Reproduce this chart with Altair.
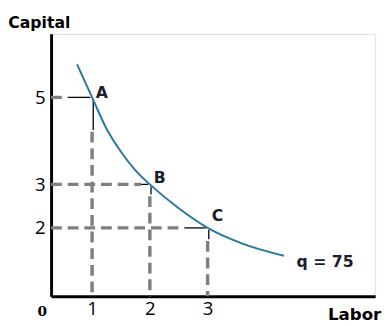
import altair as alt
import pandas as pd

# ---- data ----
curve_x = [0.74, 1.0, 1.25, 1.5, 1.75, 2.0, 2.5, 3.0, 3.6, 4.32]
curve_y = [5.76, 5.0, 4.28, 3.75, 3.32, 3.0, 2.45, 2.0, 1.64, 1.36]
point_labels = ["A", "B", "C"]
point_x = [1, 2, 3]
point_y = [5, 3, 2]
x_ticks = [1, 2, 3]
y_ticks = [2, 3, 5]
curve_label = "q = 75"
x_title = "Labor"
y_title = "Capital"
origin_label = "0"

X_DOM = [0.29, 5.9]
Y_DOM = [0.43, 6.46]

xs = alt.Scale(domain=X_DOM, nice=False, zero=False)
ys = alt.Scale(domain=Y_DOM, nice=False, zero=False)

FONT = "Open Sans"
GRAY = "#7f7f7f"
INK = "#1c1c30"

# dashed guide segments (gray) and short connector pieces (black)
dash_rows, conn_rows = [], []
gap_h = [0.42, 0.15, 0.4]     # black connector lengths along x
gap_v = [0.75, 0.23, 0.26]    # black connector lengths along y
for px, py, gh, gv in zip(point_x, point_y, gap_h, gap_v):
    dash_rows.append(dict(x=X_DOM[0], x2=px - gh, y=py, y2=py))
    dash_rows.append(dict(x=px, x2=px, y=py - gv - 0.04, y2=Y_DOM[0]))
    conn_rows.append(dict(x=px - gh, x2=px - 0.03, y=py, y2=py))
    conn_rows.append(dict(x=px + 0.02, x2=px + 0.02, y=py - 0.05, y2=py - gv))
dash_df = pd.DataFrame(dash_rows)
conn_df = pd.DataFrame(conn_rows)

curve_df = pd.DataFrame({"x": curve_x, "y": curve_y})
pts_df = pd.DataFrame({"x": point_x, "y": point_y, "label": point_labels})

base_axis_x = alt.Axis(values=x_ticks, format="d", ticks=False, grid=False, domainColor="black",
                       domainWidth=3, labelFontSize=19, labelFont=FONT, labelColor="black",
                       labelPadding=4, title=None, labelAngle=0)
base_axis_y = alt.Axis(values=y_ticks, format="d", ticks=False, grid=False, domainColor="black",
                       domainWidth=3, labelFontSize=19, labelFont=FONT, labelColor="black",
                       labelPadding=6, title=None)

dashes = alt.Chart(dash_df).mark_rule(color=GRAY, strokeWidth=3.5, strokeDash=[11, 6]).encode(
    x=alt.X("x:Q", scale=xs, axis=base_axis_x),
    x2="x2:Q",
    y=alt.Y("y:Q", scale=ys, axis=base_axis_y),
    y2="y2:Q",
)

conns = alt.Chart(conn_df).mark_rule(color="black", strokeWidth=1.3).encode(
    x=alt.X("x:Q", scale=xs), x2="x2:Q",
    y=alt.Y("y:Q", scale=ys), y2="y2:Q",
)

curve = alt.Chart(curve_df).mark_line(color="#2878a0", strokeWidth=2, interpolate="monotone").encode(
    x=alt.X("x:Q", scale=xs), y=alt.Y("y:Q", scale=ys), order="x:Q"
)

offsets = {"A": (10, -4), "B": (10, -6), "C": (10, -12)}
label_layers = []
for lab in point_labels:
    dx, dy = offsets[lab]
    label_layers.append(
        alt.Chart(pts_df).transform_filter(alt.datum.label == lab)
        .mark_text(font="DejaVu Sans", fontWeight="bold", fontSize=16, color=INK, dx=dx, dy=dy)
        .encode(x=alt.X("x:Q", scale=xs), y=alt.Y("y:Q", scale=ys), text="label:N")
    )

end_df = pd.DataFrame({"x": [curve_x[-1]], "y": [curve_y[-1]], "t": [curve_label]})
q_text = alt.Chart(end_df).mark_text(font="DejaVu Sans", fontWeight="bold", fontSize=16, color=INK,
                                     align="left", dx=13, dy=6).encode(
    x=alt.X("x:Q", scale=xs), y=alt.Y("y:Q", scale=ys), text="t:N")

corner_df = pd.DataFrame({
    "x": [X_DOM[0], X_DOM[0], X_DOM[1]],
    "y": [Y_DOM[0], Y_DOM[1], Y_DOM[0]],
    "t": [origin_label, y_title, x_title],
    "kind": ["o", "y", "x"],
})
origin_t = alt.Chart(corner_df).transform_filter(alt.datum.kind == "o").mark_text(
    font="DejaVu Serif", fontWeight="bold", fontSize=14, color="black", dx=-9, dy=16).encode(
    x=alt.X("x:Q", scale=xs), y=alt.Y("y:Q", scale=ys), text="t:N")
ytitle_t = alt.Chart(corner_df).transform_filter(alt.datum.kind == "y").mark_text(
    font="DejaVu Sans", fontWeight="bold", fontSize=16, color="black", dx=-12, dy=-11).encode(
    x=alt.X("x:Q", scale=xs), y=alt.Y("y:Q", scale=ys), text="t:N")
xtitle_t = alt.Chart(corner_df).transform_filter(alt.datum.kind == "x").mark_text(
    font="DejaVu Sans", fontWeight="bold", fontSize=17, color="black", dx=-21, dy=19).encode(
    x=alt.X("x:Q", scale=xs), y=alt.Y("y:Q", scale=ys), text="t:N")

chart = alt.layer(dashes, conns, curve, *label_layers, q_text, origin_t, ytitle_t, xtitle_t).properties(
    width=331, height=268,
    autosize=alt.AutoSizeParams(type="none"),
    padding={"left": 44, "top": 23, "right": 7, "bottom": 26},
).configure_view(stroke=None).configure(background="white")

chart.save("out.html", embed_options={"renderer": "svg", "actions": False})
